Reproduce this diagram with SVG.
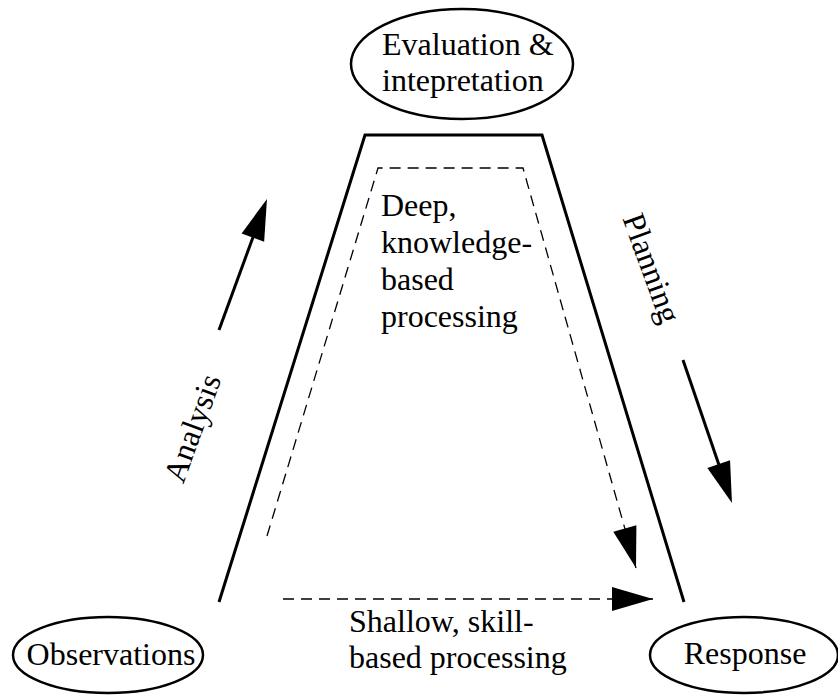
<svg xmlns="http://www.w3.org/2000/svg" width="838" height="695" viewBox="0 0 838 695">
<style>
  text { font-family: "Liberation Serif", "Times New Roman", serif; font-size: 32px; fill: #000; }
  .node { fill: #fff; stroke: #000; stroke-width: 2.5; }
  .solid { fill: none; stroke: #000; stroke-width: 3; }
  .dash { fill: none; stroke: #000; stroke-width: 1.3; stroke-dasharray: 11 7; }
</style>
<defs>
  <marker id="ah" markerUnits="userSpaceOnUse" markerWidth="42" markerHeight="26" refX="21" refY="12" orient="auto" overflow="visible">
    <path d="M0,0 L41,12 L0,24 z" fill="#000"/>
  </marker>
  <marker id="ahd" markerUnits="userSpaceOnUse" markerWidth="42" markerHeight="26" refX="41" refY="12" orient="auto" overflow="visible">
    <path d="M0,0 L41,12 L0,24 z" fill="#000"/>
  </marker>
</defs>
<rect width="838" height="695" fill="#fff"/>

<g id="trapezoid">
  <polyline class="solid" points="219,602 365,135 542,135 684,602"/>
</g>

<g id="evaluation">
  <ellipse class="node" cx="462" cy="64" rx="111" ry="55"/>
  <text x="382" y="55">Evaluation &amp;</text>
  <text x="382" y="91">intepretation</text>
</g>

<g id="observations">
  <ellipse class="node" cx="108" cy="655" rx="95" ry="38"/>
  <text x="111" y="665" text-anchor="middle">Observations</text>
</g>

<g id="response">
  <ellipse class="node" cx="744" cy="655" rx="94" ry="38"/>
  <text x="745" y="664" text-anchor="middle">Response</text>
</g>

<g id="connectors">
  <line class="solid" x1="219" y1="330" x2="260.1" y2="217.8" marker-end="url(#ah)"/>
  <line class="solid" x1="683" y1="360" x2="725.5" y2="484.1" marker-end="url(#ah)"/>
  <polyline class="dash" points="267,536 378,168 523,168 636,568" marker-end="url(#ahd)"/>
  <line class="dash" x1="283" y1="599" x2="653" y2="599" marker-end="url(#ahd)"/>
</g>

<g id="labels">
  <text x="381" y="216">Deep,</text>
  <text x="381" y="253">knowledge-</text>
  <text x="381" y="290">based</text>
  <text x="381" y="327">processing</text>
  <text x="349" y="632">Shallow, skill-</text>
  <text x="349" y="668">based processing</text>
  <text transform="translate(192,428) rotate(-70)" x="0" y="11" text-anchor="middle">Analysis</text>
  <text transform="translate(652,268) rotate(70)" x="0" y="11" text-anchor="middle">Planning</text>
</g>
</svg>
